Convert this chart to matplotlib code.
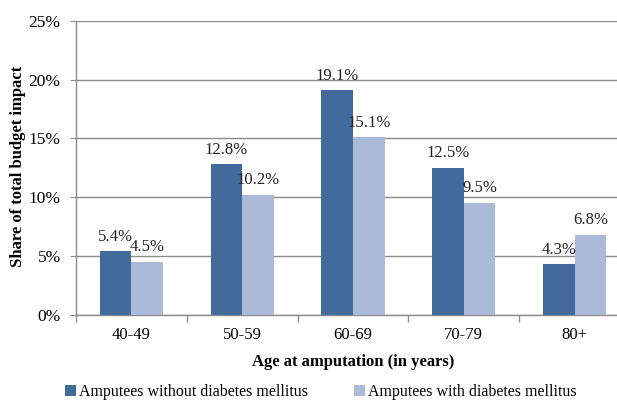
import matplotlib
matplotlib.use("Agg")
import matplotlib.pyplot as plt
import numpy as np
from matplotlib.ticker import FuncFormatter, FixedLocator

categories = ["40-49", "50-59", "60-69", "70-79", "80+"]
without_dm = [5.4, 12.8, 19.1, 12.5, 4.3]
with_dm = [4.5, 10.2, 15.1, 9.5, 6.8]
series_names = ["Amputees without diabetes mellitus", "Amputees with diabetes mellitus"]
y_ticks = [0, 5, 10, 15, 20, 25]

plt.rcParams['font.family'] = ['Liberation Serif', 'DejaVu Serif']

fig = plt.figure(figsize=(6.17, 4.0), dpi=100)
ax = fig.add_axes([76/617, 1-314.7/400, (630-76)/617, (314.7-20.7)/400])

dark = "#426A9B"
light = "#AABAD8"
grid_c = "#8C8C8C"

x = np.arange(len(categories))
w = 0.285
b1 = ax.bar(x - w/2, without_dm, w, color=dark, label=series_names[0], zorder=3)
b2 = ax.bar(x + w/2, with_dm, w, color=light, label=series_names[1], zorder=3)

for bars, vals in ((b1, without_dm), (b2, with_dm)):
    for r, v in zip(bars, vals):
        ax.text(r.get_x() + r.get_width()/2, v + 0.9, f"{v:.1f}%", ha="center", va="baseline",
                fontsize=12, color="#222222", zorder=4)

ax.set_xlim(-0.5, len(categories) - 0.5)
ax.set_ylim(0, 25)
ax.set_yticks(y_ticks)
ax.yaxis.set_major_formatter(FuncFormatter(lambda v, p: f"{int(v)}%"))
ax.set_xticks(x)
ax.set_xticklabels(categories, fontsize=12)
ax.xaxis.set_minor_locator(FixedLocator(np.arange(-0.5, len(categories), 1.0)))
ax.tick_params(axis="x", which="major", length=0, pad=9)
ax.tick_params(axis="x", which="minor", length=5, color=grid_c, width=1)
ax.tick_params(axis="y", length=4, color=grid_c, labelsize=12.5, pad=7)

ax.grid(axis="y", color=grid_c, linewidth=1, zorder=0)
for s in ("top", "right"):
    ax.spines[s].set_visible(False)
for s in ("left", "bottom"):
    ax.spines[s].set_color(grid_c)
    ax.spines[s].set_linewidth(1)

ax.set_xlabel("Age at amputation (in years)", fontsize=12, fontweight="bold", labelpad=8)
fig.text(18/617, 1-166/400, "Share of total budget impact", rotation=90, fontsize=12,
         fontweight="bold", ha="center", va="center")

fig.legend(handles=[b1, b2], labels=series_names, loc="center", bbox_to_anchor=(321/617, 1-392/400),
           ncol=2, frameon=False, fontsize=11.5, handlelength=0.65, handleheight=0.65,
           handletextpad=0.2, columnspacing=2.9)

fig.savefig("out.png", dpi=100)
